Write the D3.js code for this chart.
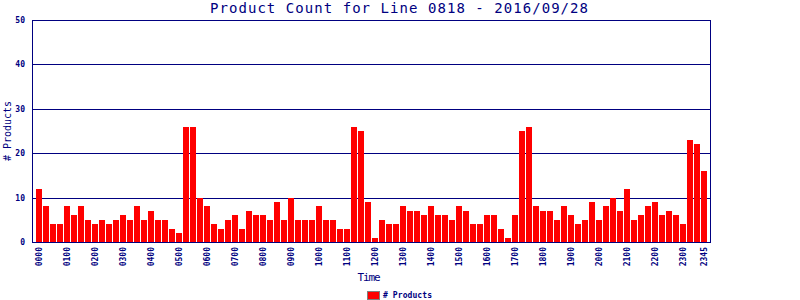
<!DOCTYPE html>
<html>
<head>
<meta charset="utf-8">
<script src="https://cdn.jsdelivr.net/npm/d3@7"></script>
<style>
  body { margin: 0; background: #fff; }
  svg { display: block; }
</style>
</head>
<body>
<div id="chart"></div>
<script>
const times = [
  "0000","0015","0030","0045","0100","0115","0130","0145","0200","0215","0230","0245",
  "0300","0315","0330","0345","0400","0415","0430","0445","0500","0515","0530","0545",
  "0600","0615","0630","0645","0700","0715","0730","0745","0800","0815","0830","0845",
  "0900","0915","0930","0945","1000","1015","1030","1045","1100","1115","1130","1145",
  "1200","1215","1230","1245","1300","1315","1330","1345","1400","1415","1430","1445",
  "1500","1515","1530","1545","1600","1615","1630","1645","1700","1715","1730","1745",
  "1800","1815","1830","1845","1900","1915","1930","1945","2000","2015","2030","2045",
  "2100","2115","2130","2145","2200","2215","2230","2245","2300","2315","2330","2345"
];

const products = [
  12, 8, 4, 4, 8, 6, 8, 5, 4, 5, 4, 5,
  6, 5, 8, 5, 7, 5, 5, 3, 2, 26, 26, 10,
  8, 4, 3, 5, 6, 3, 7, 6, 6, 5, 9, 5,
  10, 5, 5, 5, 8, 5, 5, 3, 3, 26, 25, 9,
  1, 5, 4, 4, 8, 7, 7, 6, 8, 6, 6, 5,
  8, 7, 4, 4, 6, 6, 3, 1, 6, 25, 26, 8,
  7, 7, 5, 8, 6, 4, 5, 9, 5, 8, 10, 7,
  12, 5, 6, 8, 9, 6, 7, 6, 4, 23, 22, 16
];

const xTickLabels = [
  "0000","0100","0200","0300","0400","0500","0600","0700","0800","0900","1000","1100",
  "1200","1300","1400","1500","1600","1700","1800","1900","2000","2100","2200","2300","2345"
];

const yTicks = [0, 10, 20, 30, 40, 50];

const title = "Product Count for Line 0818 - 2016/09/28";
const navy = "#000080";
const mono = "'DejaVu Sans Mono', 'Liberation Mono', monospace";

const width = 800;
const height = 300;
const plot = { left: 32, right: 710, top: 20, bottom: 242 };

const svg = d3.select("#chart")
  .append("svg")
  .attr("width", width)
  .attr("height", height)
  .attr("viewBox", [0, 0, width, height]);

svg.append("rect")
  .attr("width", width)
  .attr("height", height)
  .attr("fill", "#fff");

const x = d3.scaleBand()
  .domain(times)
  .range([36, 707])
  .paddingInner(1 / 7)
  .paddingOuter(0);

const y = d3.scaleLinear()
  .domain([0, 50])
  .range([plot.bottom, plot.top]);

// gridlines, snapped to whole pixels so they stay crisp
svg.append("g")
  .selectAll("line")
  .data(yTicks.filter((d) => d > 0))
  .join("line")
  .attr("x1", plot.left)
  .attr("x2", plot.right)
  .attr("y1", (d) => Math.round(y(d)) + 0.5)
  .attr("y2", (d) => Math.round(y(d)) + 0.5)
  .attr("stroke", navy)
  .attr("stroke-width", 1);

// bars
svg.append("g")
  .selectAll("rect")
  .data(products)
  .join("rect")
  .attr("x", (d, i) => x(times[i]))
  .attr("y", (d) => Math.round(y(d)))
  .attr("width", x.bandwidth())
  .attr("height", (d) => y(0) - Math.round(y(d)))
  .attr("fill", "#ff0000");

// frame: left, right, bottom
svg.append("line")
  .attr("x1", plot.left + 0.5).attr("x2", plot.left + 0.5)
  .attr("y1", plot.top).attr("y2", plot.bottom + 1)
  .attr("stroke", navy);
svg.append("line")
  .attr("x1", plot.right + 0.5).attr("x2", plot.right + 0.5)
  .attr("y1", plot.top).attr("y2", plot.bottom + 1)
  .attr("stroke", navy);
svg.append("line")
  .attr("x1", plot.left).attr("x2", plot.right + 1)
  .attr("y1", plot.bottom + 0.5).attr("y2", plot.bottom + 0.5)
  .attr("stroke", navy);

// y axis labels
const yAxis = d3.axisLeft(y)
  .tickValues(yTicks)
  .tickSize(0)
  .tickPadding(7);

svg.append("g")
  .attr("transform", `translate(${plot.left},0)`)
  .call(yAxis)
  .call((g) => g.select(".domain").remove())
  .selectAll("text")
  .attr("fill", navy)
  .style("font-family", mono)
  .style("font-size", "8px")
  .style("font-weight", "bold");

// x axis labels (rotated)
const xAxis = d3.axisBottom(x)
  .tickValues(xTickLabels)
  .tickSize(0);

svg.append("g")
  .attr("transform", `translate(0,${plot.bottom})`)
  .call(xAxis)
  .call((g) => g.select(".domain").remove())
  .selectAll("text")
  .attr("fill", navy)
  .attr("transform", "rotate(-90)")
  .attr("text-anchor", "end")
  .attr("x", -5)
  .attr("y", 0)
  .attr("dy", "0.32em")
  .style("font-family", mono)
  .style("font-size", "8px")
  .style("font-weight", "bold");

// title
svg.append("text")
  .attr("x", 399)
  .attr("y", 13)
  .attr("text-anchor", "middle")
  .attr("fill", navy)
  .attr("textLength", 378)
  .style("font-family", mono)
  .style("font-size", "14px")
  .text(title);

// axis titles
svg.append("text")
  .attr("x", 369)
  .attr("y", 281)
  .attr("text-anchor", "middle")
  .attr("fill", navy)
  .attr("textLength", 23)
  .style("font-family", mono)
  .style("font-size", "11px")
  .text("Time");

svg.append("text")
  .attr("transform", `translate(11,${(plot.top + plot.bottom) / 2}) rotate(-90)`)
  .attr("text-anchor", "middle")
  .attr("fill", navy)
  .style("font-family", mono)
  .style("font-size", "10px")
  .text("# Products");

// legend
svg.append("rect")
  .attr("x", 367.5)
  .attr("y", 291.5)
  .attr("width", 12)
  .attr("height", 8)
  .attr("fill", "#ff0000")
  .attr("stroke", "#808080");

svg.append("text")
  .attr("x", 383)
  .attr("y", 298)
  .attr("fill", navy)
  .attr("textLength", 49)
  .style("font-family", mono)
  .style("font-size", "8px")
  .style("font-weight", "bold")
  .text("# Products");
</script>
</body>
</html>
